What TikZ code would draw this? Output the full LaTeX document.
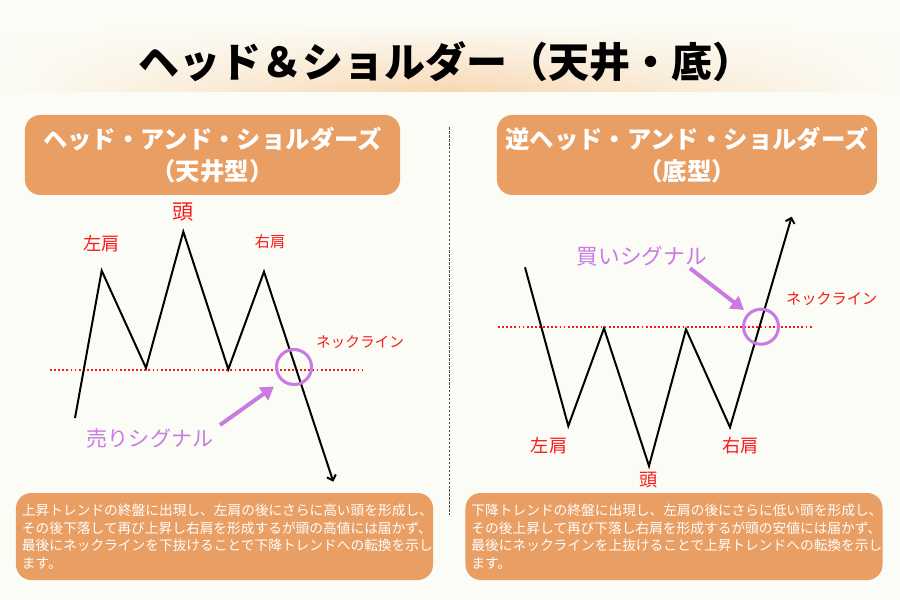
\documentclass[tikz,border=0pt]{standalone}
\usepackage{fontspec}
\setmainfont{Noto Sans CJK JP}
\usetikzlibrary{positioning}
\usetikzlibrary{arrows.meta}
\usetikzlibrary{fadings}

\definecolor{paper}{RGB}{252,252,246}
\definecolor{boxorange}{RGB}{233,158,99}
\definecolor{glow}{RGB}{248,216,178}
\definecolor{signal}{RGB}{201,122,227}
\definecolor{labelred}{RGB}{250,25,25}

\tikzfading[name=fade sides, left color=transparent!100, right color=transparent!100, middle color=transparent!0]

\begin{document}
\begin{tikzpicture}[x=0.03cm, y=-0.03cm,
	header/.style={fill=boxorange, rounded corners=13pt, text=white, align=center, font=\bfseries\fontsize{20.8}{27}\selectfont},
	note/.style={fill=boxorange, rounded corners=13pt, text=white, align=left, inner xsep=0.18cm, text width=12.15cm, minimum height=2.61cm, font=\fontsize{11.7}{14.9}\selectfont},
	price/.style={line width=1.7pt, -{Straight Barb[length=4pt, width=8pt]}},
	neck/.style={labelred, line width=1.6pt, dash pattern=on 1.6pt off 1.9pt},
	ring/.style={circle, draw=signal, line width=2.6pt, minimum size=1.05cm, inner sep=0pt},
	hint/.style={signal, line width=3.4pt, -{Triangle[length=11pt, width=13pt]}},
	tag/.style={text=labelred, inner sep=0pt}]

	% background and title
	\fill[paper] (0,0) rectangle (900,600);
	\shade[top color=paper, bottom color=glow, path fading=fade sides] (0,24) rectangle (900,92);
	\node[font=\bfseries\fontsize{35}{40}\selectfont] (title) at (446,62) {ヘッド＆ショルダー（天井・底）};
	\coordinate (divtop) at (449.5,127);
	\coordinate (divbot) at (449.5,515);
	\draw[gray!60!black, line width=0.6pt, dash pattern=on 2.2pt off 1.2pt] (divtop) -- (divbot);

	% head and shoulders (top)
	\node[header, minimum width=11.25cm, minimum height=2.4cm] (tophead) at (212.5,155) {ヘッド・アンド・ショルダーズ\\（天井型）};
	\coordinate (l0) at (75,418);
	\coordinate (l1) at (101.7,270.7);
	\coordinate (l2) at (146,368);
	\coordinate (l3) at (183.3,231.7);
	\coordinate (l4) at (228.3,369.3);
	\coordinate (l5) at (264,271.7);
	\coordinate (l6) at (333.3,481.7);
	\coordinate (lneckA) at (50,370);
	\coordinate (lneckB) at (363,370);
	\draw[neck] (lneckA) -- (lneckB);
	\draw[price] (l0) -- (l1) -- (l2) -- (l3) -- (l4) -- (l5) -- (l6);
	\node[tag, font=\fontsize{15.5}{16}\selectfont] (lleft) at (101.7,243.3) {左肩};
	\node[tag, font=\fontsize{18}{19}\selectfont] (lhead) at (183.3,211.7) {頭};
	\node[tag, font=\fontsize{13}{14}\selectfont] (lright) at (270,241.7) {右肩};
	\node[tag, font=\fontsize{12.5}{13}\selectfont] (lneck) at (360,341.7) {ネックライン};
	\node[ring] (sellring) at (294,367) {};
	\node[text=signal, inner sep=0pt, font=\fontsize{18}{19}\selectfont] (sell) at (150,438) {売りシグナル};
	\coordinate (sellA) at (220,425);
	\coordinate (sellB) at (274,386.5);
	\draw[hint] (sellA) -- (sellB);
	\node[note] (topnote) at (224.5,536.5) {上昇トレンドの終盤に出現し、左肩の後にさらに高い頭を形成し、\\その後下落して再び上昇し右肩を形成するが頭の高値には届かず、\\最後にネックラインを下抜けることで下降トレンドへの転換を示し\\ます。};

	% inverse head and shoulders (bottom)
	\node[header, minimum width=11.4cm, minimum height=2.4cm] (bothead) at (687,155) {逆ヘッド・アンド・ショルダーズ\\（底型）};
	\coordinate (r0) at (525,267.3);
	\coordinate (r1) at (568.3,426);
	\coordinate (r2) at (604,328.3);
	\coordinate (r3) at (649,466);
	\coordinate (r4) at (686,329.3);
	\coordinate (r5) at (730,427.3);
	\coordinate (r6) at (791.7,216.7);
	\coordinate (rneckA) at (498,326.7);
	\coordinate (rneckB) at (813,326.7);
	\draw[neck] (rneckA) -- (rneckB);
	\draw[price] (r0) -- (r1) -- (r2) -- (r3) -- (r4) -- (r5) -- (r6);
	\node[tag, font=\fontsize{15.5}{16}\selectfont] (rleft) at (549,446) {左肩};
	\node[tag, font=\fontsize{15.5}{16}\selectfont] (rhead) at (649,480) {頭};
	\node[tag, font=\fontsize{15.5}{16}\selectfont] (rright) at (740.7,446) {右肩};
	\node[tag, font=\fontsize{13}{14}\selectfont] (rneck) at (831.7,299.3) {ネックライン};
	\node[ring] (buyring) at (761,326.7) {};
	\node[text=signal, inner sep=0pt, font=\fontsize{18.5}{19}\selectfont] (buy) at (641.7,256) {買いシグナル};
	\coordinate (buyA) at (690,268.3);
	\coordinate (buyB) at (744,310);
	\draw[hint] (buyA) -- (buyB);
	\node[note] (botnote) at (674,536.5) {下降トレンドの終盤に出現し、左肩の後にさらに低い頭を形成し、\\その後上昇して再び下落し右肩を形成するが頭の安値には届かず、\\最後にネックラインを上抜けることで上昇トレンドへの転換を示し\\ます。};
\end{tikzpicture}
\end{document}
